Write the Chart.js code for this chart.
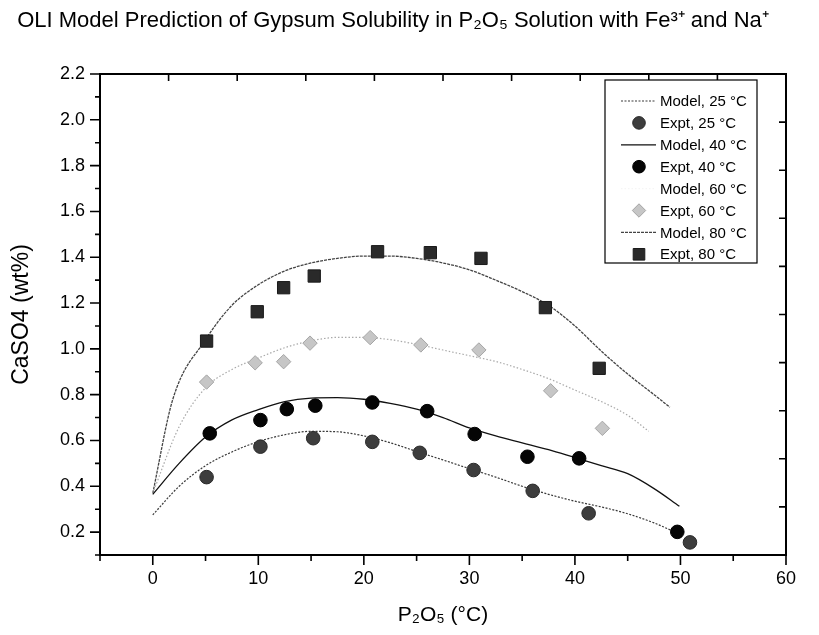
<!DOCTYPE html>
<html>
<head>
<meta charset="utf-8">
<script src="https://cdn.jsdelivr.net/npm/chart.js@4/dist/chart.umd.min.js"></script>
<style>
  html, body { margin: 0; padding: 0; background: #fff; }
  #wrap { width: 819px; height: 635px; }
</style>
</head>
<body>
<div id="wrap"><canvas id="chart"></canvas></div>
<script>
// tick labels
const xTicks = [0, 10, 20, 30, 40, 50, 60];
const yTicks = [0.2, 0.4, 0.6, 0.8, 1.0, 1.2, 1.4, 1.6, 1.8, 2.0, 2.2];

// model curves
const model25X = [0, 2.5, 5, 7.5, 10, 12.5, 15, 17.5, 20, 22.5, 25, 27.5, 30, 32.5, 35, 37.5, 40, 42.5, 45, 47.5, 49.5];
const model25Y = [0.275, 0.40, 0.49, 0.55, 0.595, 0.625, 0.64, 0.638, 0.62, 0.59, 0.552, 0.515, 0.477, 0.44, 0.40, 0.365, 0.335, 0.31, 0.28, 0.24, 0.20];
const model40X = [0, 2.5, 5, 7.5, 10, 12.5, 15, 17.5, 20, 22.5, 25, 27.5, 30, 32.5, 35, 37.5, 40, 42.5, 45, 47.5, 49.9];
const model40Y = [0.365, 0.50, 0.615, 0.69, 0.735, 0.77, 0.785, 0.787, 0.78, 0.762, 0.737, 0.70, 0.655, 0.62, 0.59, 0.56, 0.525, 0.49, 0.455, 0.39, 0.313];
const model60X = [0, 2.5, 5, 7.5, 10, 12.5, 15, 17.5, 20, 22.5, 25, 27.5, 30, 32.5, 35, 37.5, 40, 42.5, 45, 47];
const model60Y = [0.37, 0.66, 0.83, 0.91, 0.96, 1.005, 1.035, 1.05, 1.05, 1.04, 1.02, 0.995, 0.97, 0.945, 0.91, 0.87, 0.82, 0.77, 0.71, 0.64];
const model80X = [0, 1.9, 5, 7.5, 10, 12.5, 15, 17.5, 20, 22.5, 25, 27.5, 30, 32.5, 35, 37.5, 40, 42.5, 45, 47.5, 49];
const model80Y = [0.37, 0.78, 1.04, 1.19, 1.28, 1.34, 1.375, 1.395, 1.405, 1.405, 1.395, 1.375, 1.345, 1.30, 1.25, 1.19, 1.10, 0.99, 0.89, 0.80, 0.745];

// experimental points
const expt25X = [5.1, 10.2, 15.2, 20.8, 25.3, 30.4, 36.0, 41.3, 50.9];
const expt25Y = [0.44, 0.573, 0.61, 0.594, 0.546, 0.471, 0.38, 0.282, 0.155];
const expt40X = [5.4, 10.2, 12.7, 15.4, 20.8, 26.0, 30.5, 35.5, 40.4, 49.7];
const expt40Y = [0.631, 0.689, 0.737, 0.752, 0.766, 0.728, 0.628, 0.529, 0.522, 0.201];
const expt60X = [5.1, 9.7, 12.4, 14.9, 20.6, 25.4, 30.9, 37.7, 42.6];
const expt60Y = [0.855, 0.939, 0.944, 1.025, 1.049, 1.017, 0.995, 0.817, 0.653];
const expt80X = [5.1, 9.9, 12.4, 15.3, 21.3, 26.3, 31.1, 37.2, 42.3];
const expt80Y = [1.034, 1.162, 1.267, 1.318, 1.424, 1.42, 1.395, 1.18, 0.915];

function pts(xs, ys) {
    return xs.map((x, i) => ({x: x, y: ys[i]}));
}

function modelSet(label, xs, ys, color, dash, width) {
    return {
        label: label,
        data: pts(xs, ys),
        showLine: true,
        borderColor: color,
        borderWidth: width,
        borderDash: dash,
        pointRadius: 0,
        cubicInterpolationMode: 'monotone',
        fill: false,
        order: 2
    };
}

function exptSet(label, xs, ys, style, fill, border, radius) {
    return {
        label: label,
        data: pts(xs, ys),
        showLine: false,
        pointStyle: style,
        pointRadius: radius,
        backgroundColor: fill,
        borderColor: border,
        borderWidth: 1,
        order: 1
    };
}

const datasets = [
    modelSet('Model, 25 °C', model25X, model25Y, '#3a3a3a', [2, 1.5], 1.2),
    exptSet('Expt, 25 °C', expt25X, expt25Y, 'circle', '#3d3d3d', '#2a2a2a', 6.8),
    modelSet('Model, 40 °C', model40X, model40Y, '#111', [], 1.3),
    exptSet('Expt, 40 °C', expt40X, expt40Y, 'circle', '#050505', '#000', 6.8),
    modelSet('Model, 60 °C', model60X, model60Y, '#a9a9a9', [1.5, 2], 1.2),
    exptSet('Expt, 60 °C', expt60X, expt60Y, 'rectRot', '#c6c6c6', '#a5a5a5', 7.2),
    modelSet('Model, 80 °C', model80X, model80Y, '#444', [3, 1], 1.3),
    exptSet('Expt, 80 °C', expt80X, expt80Y, 'rect', '#2a2a2a', '#1a1a1a', 8.7)
];

const fontFamily = '"Liberation Sans", Arial, sans-serif';

// frame, tick marks and boxed legend
const framePlugin = {
    id: 'frame',
    afterDraw(chart) {
        const {ctx, chartArea: a, scales} = chart;
        ctx.save();
        ctx.strokeStyle = '#000';
        ctx.lineWidth = 2;
        ctx.strokeRect(a.left, a.top, a.right - a.left, a.bottom - a.top);

        ctx.lineWidth = 1.6;
        ctx.beginPath();
        // bottom: outward, major every 10, minor every 5
        const xs = scales.x;
        for (let v = xs.min; v <= xs.max + 1e-9; v += 5) {
            const px = xs.getPixelForValue(v);
            const len = xTicks.includes(v) ? 10 : 6;
            ctx.moveTo(px, a.bottom);
            ctx.lineTo(px, a.bottom + len);
        }
        // left: outward, major every 0.2, minor every 0.1
        const ys = scales.y;
        for (let k = Math.round(ys.min * 10); k <= Math.round(ys.max * 10); k++) {
            const py = ys.getPixelForValue(k / 10);
            const len = k % 2 === 0 ? 10 : 5;
            ctx.moveTo(a.left, py);
            ctx.lineTo(a.left - len, py);
        }
        // top and right: inward
        scales.x2.ticks.forEach(t => {
            const px = scales.x2.getPixelForValue(t.value);
            ctx.moveTo(px, a.top);
            ctx.lineTo(px, a.top + 7);
        });
        scales.y2.ticks.forEach(t => {
            const py = scales.y2.getPixelForValue(t.value);
            ctx.moveTo(a.right, py);
            ctx.lineTo(a.right - 7, py);
        });
        ctx.stroke();

        // legend
        const lx = 605, ly = 80, lw = 152, lh = 183;
        ctx.lineWidth = 1.2;
        ctx.fillStyle = '#fff';
        ctx.fillRect(lx, ly, lw, lh);
        ctx.strokeRect(lx, ly, lw, lh);
        ctx.font = '15px ' + fontFamily;
        ctx.textBaseline = 'middle';
        ctx.textAlign = 'left';
        chart.data.datasets.forEach((ds, i) => {
            const cy = ly + 21 + i * 21.9;
            if (ds.showLine) {
                ctx.save();
                ctx.strokeStyle = ds.borderColor;
                ctx.lineWidth = ds.borderWidth;
                ctx.setLineDash(ds.borderDash);
                // the 60 °C sample is barely visible in the original
                if (i === 4) ctx.globalAlpha = 0.12;
                ctx.beginPath();
                ctx.moveTo(621, cy);
                ctx.lineTo(656, cy);
                ctx.stroke();
                ctx.restore();
            } else {
                ctx.save();
                ctx.fillStyle = ds.backgroundColor;
                ctx.strokeStyle = ds.borderColor;
                ctx.lineWidth = 1;
                Chart.helpers.drawPoint(ctx, {
                    pointStyle: ds.pointStyle,
                    radius: ds.pointRadius - 0.5,
                    rotation: 0,
                    borderWidth: 1
                }, 639, cy);
                ctx.restore();
            }
            ctx.fillStyle = '#000';
            ctx.fillText(ds.label, 660, cy + 1);
        });
        ctx.restore();
    }
};

new Chart(document.getElementById('chart').getContext('2d'), {
    type: 'scatter',
    data: {datasets: datasets},
    options: {
        responsive: true,
        maintainAspectRatio: false,
        animation: false,
        layout: {padding: {left: 0, right: 33, top: 0, bottom: 0}},
        plugins: {
            legend: {display: false},
            tooltip: {enabled: false},
            title: {
                display: true,
                text: 'OLI Model Prediction of Gypsum Solubility in P₂O₅ Solution with Fe³⁺ and Na⁺',
                color: '#000',
                font: {family: fontFamily, size: 22, weight: 'normal'},
                padding: {top: 8, bottom: 39.6}
            }
        },
        scales: {
            x: {
                type: 'linear',
                position: 'bottom',
                min: -5,
                max: 60,
                afterBuildTicks: s => { s.ticks = xTicks.map(v => ({value: v})); },
                afterFit: s => { s.height = 80; },
                grid: {display: false, drawTicks: false},
                border: {display: false},
                ticks: {color: '#000', padding: 13, font: {family: fontFamily, size: 18}},
                title: {
                    display: true,
                    text: 'P₂O₅ (°C)',
                    color: '#000',
                    font: {family: fontFamily, size: 21},
                    padding: {top: 0, bottom: 7}
                }
            },
            y: {
                type: 'linear',
                position: 'left',
                min: 0.1,
                max: 2.2,
                afterBuildTicks: s => { s.ticks = yTicks.map(v => ({value: v})); },
                afterFit: s => { s.width = 100; },
                grid: {display: false, drawTicks: false},
                border: {display: false},
                ticks: {
                    color: '#000',
                    padding: 15,
                    font: {family: fontFamily, size: 18},
                    callback: v => v.toFixed(1)
                },
                title: {
                    display: true,
                    text: 'CaSO4 (wt%)',
                    color: '#000',
                    font: {family: fontFamily, size: 23},
                    padding: {top: 8, bottom: 0}
                }
            },
            x2: {
                type: 'linear',
                position: 'top',
                min: 0,
                max: 10,
                ticks: {display: false, stepSize: 1},
                grid: {display: false, drawTicks: false},
                border: {display: false},
                afterFit: s => { s.height = 0; }
            },
            y2: {
                type: 'linear',
                position: 'right',
                min: 0,
                max: 10,
                ticks: {display: false, stepSize: 1},
                grid: {display: false, drawTicks: false},
                border: {display: false},
                afterFit: s => { s.width = 0; }
            }
        }
    },
    plugins: [framePlugin]
});
</script>
</body>
</html>
